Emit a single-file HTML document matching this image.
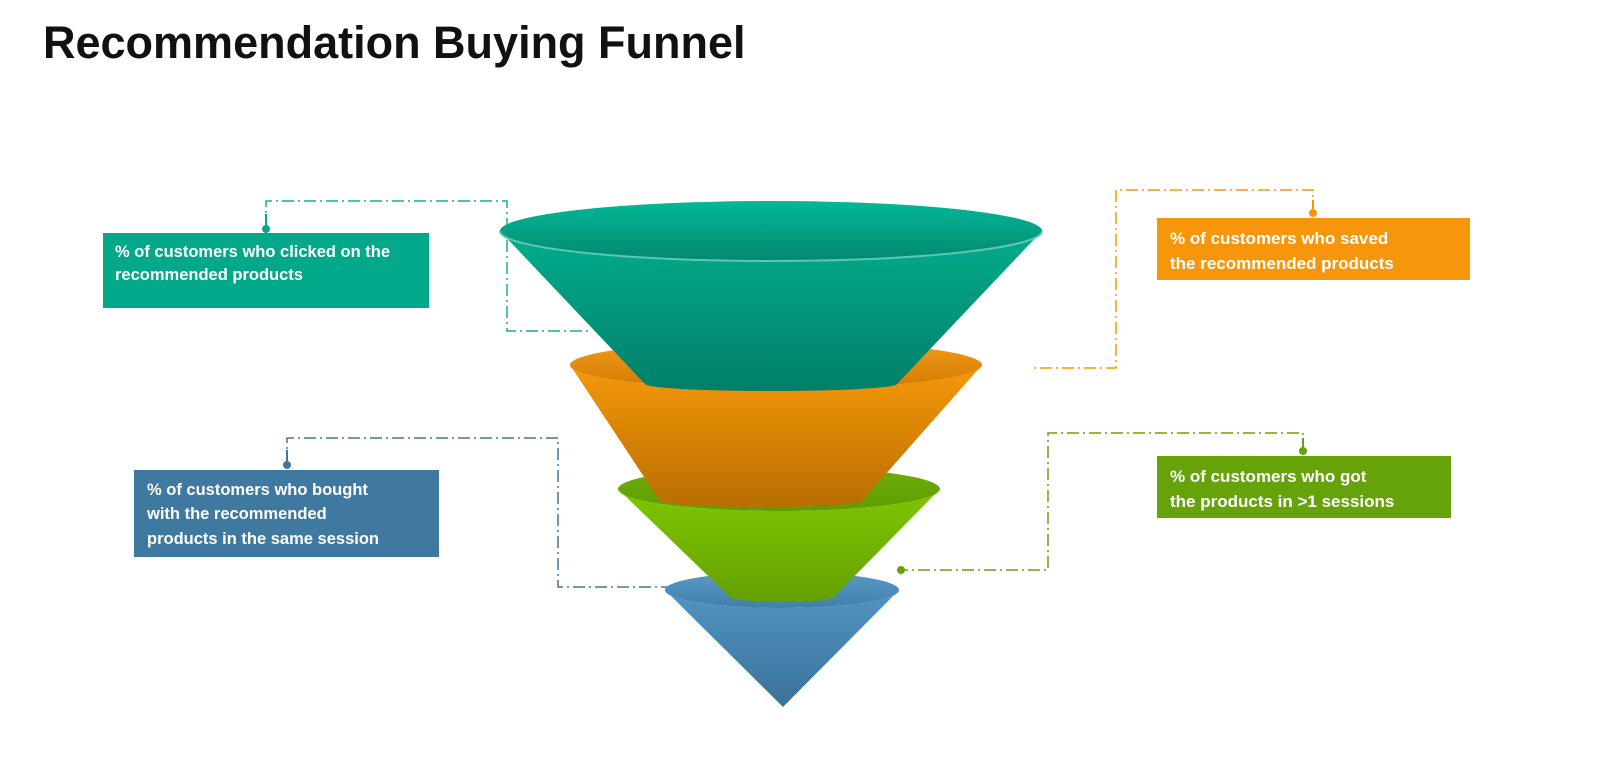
<!DOCTYPE html>
<html><head><meta charset="utf-8"><style>
body{margin:0;background:#fff;}
svg{display:block}
</style></head><body>
<svg width="1600" height="779" viewBox="0 0 1600 779" xmlns="http://www.w3.org/2000/svg" font-family="Liberation Sans, sans-serif">
<defs>
<linearGradient id="tC" x1="0" y1="0" x2="0" y2="1"><stop offset="0" stop-color="#03AD8E"/><stop offset="1" stop-color="#017F68"/></linearGradient>
<linearGradient id="tE" x1="0" y1="0" x2="0" y2="1"><stop offset="0" stop-color="#04B898"/><stop offset="1" stop-color="#028870"/></linearGradient>
<linearGradient id="oC" x1="0" y1="0" x2="0" y2="1"><stop offset="0" stop-color="#F7980A"/><stop offset="1" stop-color="#B86E02"/></linearGradient>
<linearGradient id="oE" x1="0" y1="0" x2="0" y2="1"><stop offset="0" stop-color="#F59A1A"/><stop offset="1" stop-color="#D07C02"/></linearGradient>
<linearGradient id="gC" x1="0" y1="0" x2="0" y2="1"><stop offset="0" stop-color="#80C602"/><stop offset="1" stop-color="#64A002"/></linearGradient>
<linearGradient id="gE" x1="0" y1="0" x2="0" y2="1"><stop offset="0" stop-color="#70AE0A"/><stop offset="1" stop-color="#5E9C02"/></linearGradient>
<linearGradient id="bC" x1="0" y1="0" x2="0" y2="1"><stop offset="0" stop-color="#5294C4"/><stop offset="1" stop-color="#3A7298"/></linearGradient>
<linearGradient id="bE" x1="0" y1="0" x2="0" y2="1"><stop offset="0" stop-color="#5A98C6"/><stop offset="1" stop-color="#4280AC"/></linearGradient>
</defs>

<text x="43" y="58" font-size="45" font-weight="bold" fill="#111">Recommendation Buying Funnel</text>

<!-- connectors -->
<g fill="none" stroke-width="1.5" stroke-dasharray="12,4,2,4">
<path d="M266 229 V201 H507 V331 H590" stroke="#1AAE92"/>
<path d="M1313 213 V190 H1116 V368 H1030" stroke="#F7960A"/>
<path d="M287 465 V438 H558 V587 H668" stroke="#3F79A0"/>
<path d="M1303 451 V433 H1048 V570 H900" stroke="#66A30B"/>
</g>
<g stroke-width="2">
<line x1="266" y1="229" x2="266" y2="214" stroke="#06A88A"/>
<line x1="1313" y1="213" x2="1313" y2="200" stroke="#F7960A"/>
<line x1="287" y1="465" x2="287" y2="450" stroke="#3F79A0"/>
<line x1="1303" y1="451" x2="1303" y2="438" stroke="#66A30B"/>
</g>
<circle cx="266" cy="229" r="4" fill="#06A88A"/>
<circle cx="1313" cy="213" r="4" fill="#F7960A"/>
<circle cx="287" cy="465" r="4" fill="#3F79A0"/>
<circle cx="1303" cy="451" r="4" fill="#66A30B"/>
<circle cx="901" cy="570" r="4" fill="#66A30B"/>

<!-- blue -->
<ellipse cx="782" cy="590" rx="117" ry="18" fill="url(#bE)"/>
<path d="M665 590 L783 707 L899 590 A117 18 0 0 1 665 590 Z" fill="url(#bC)"/>
<!-- green -->
<ellipse cx="779" cy="489" rx="161" ry="22" fill="url(#gE)"/>
<path d="M618 489 L730 597 A52 5 0 0 0 834 597 L940 489 A161 22 0 0 1 618 489 Z" fill="url(#gC)"/>
<!-- orange -->
<ellipse cx="776" cy="365" rx="206" ry="24" fill="url(#oE)"/>
<path d="M570 365 L660 501 A100 6 0 0 0 862 501 L982 365 A206 24 0 0 1 570 365 Z" fill="url(#oC)"/>
<!-- teal -->
<path d="M500 231 L645 384 A126 7 0 0 0 897 384 L1042 231 A271 30 0 0 1 500 231 Z" fill="url(#tC)"/>
<ellipse cx="771" cy="231" rx="271" ry="30" fill="url(#tE)"/>
<path d="M500 231 A271 30 0 0 0 1042 231" fill="none" stroke="#5CC8B0" stroke-width="2"/>

<!-- boxes -->
<rect x="103" y="233" width="326" height="75" fill="#02A88A"/>
<text fill="#fff" font-size="16.5" font-weight="bold"><tspan x="115" y="257">% of customers who clicked on the</tspan><tspan x="115" y="280">recommended products</tspan></text>

<rect x="1157" y="218" width="313" height="62" fill="#F7960A"/>
<text fill="#fff" font-size="17" font-weight="bold"><tspan x="1170" y="244">% of customers who saved</tspan><tspan x="1170" y="269">the recommended products</tspan></text>

<rect x="134" y="470" width="305" height="87" fill="#3F79A0"/>
<text fill="#fff" font-size="16.5" font-weight="bold"><tspan x="147" y="495">% of customers who bought</tspan><tspan x="147" y="519">with the recommended</tspan><tspan x="147" y="544">products in the same session</tspan></text>

<rect x="1157" y="456" width="294" height="62" fill="#66A30B"/>
<text fill="#fff" font-size="17" font-weight="bold"><tspan x="1170" y="482">% of customers who got</tspan><tspan x="1170" y="507">the products in &gt;1 sessions</tspan></text>
</svg>
</body></html>
